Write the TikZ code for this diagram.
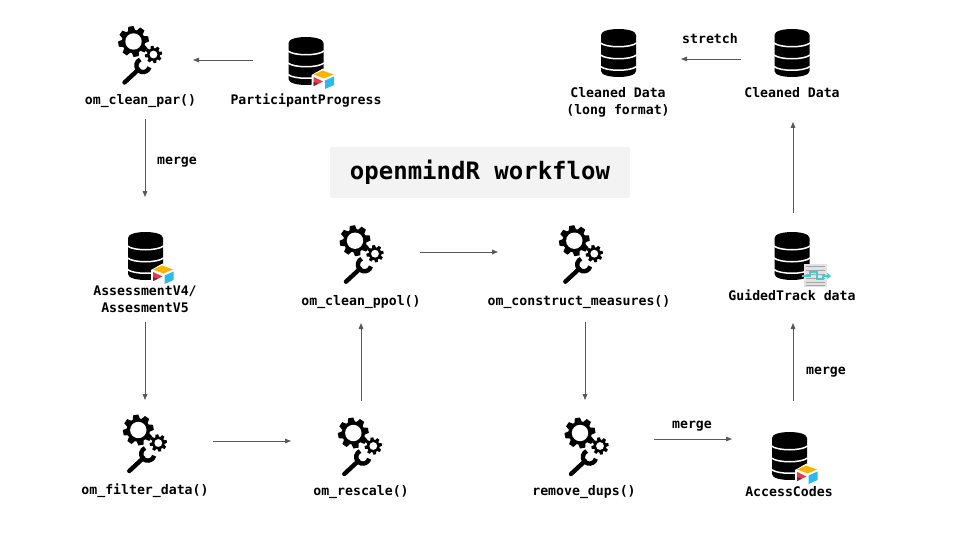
\documentclass[tikz,border=0pt]{standalone}
\usepackage{fontspec}
\setmonofont{DejaVu Sans Mono}[BoldFont={DejaVu Sans Mono Bold}]
\usetikzlibrary{arrows.meta}
\definecolor{arrowgray}{HTML}{595959}
\definecolor{titlebg}{HTML}{F3F3F3}
\definecolor{atyellow}{HTML}{FCB400}
\definecolor{atred}{HTML}{E8384F}
\definecolor{atblue}{HTML}{2DB9F0}
\definecolor{atdark}{HTML}{8A1F3A}
\definecolor{gtteal}{HTML}{3CCFCF}
\definecolor{gtmaze}{HTML}{CFCFCF}
\tikzset{
  x=1pt,y=-1pt,
  slot/.style 2 args={minimum width=#1pt,minimum height=#2pt,inner sep=0pt,outer sep=0pt},
  caption/.style={font=\ttfamily\bfseries\fontsize{13.2}{17}\selectfont,text=black,inner sep=0pt,align=center,text depth=0pt},
  titlebox/.style={fill=titlebg,minimum width=300pt,minimum height=51pt,inner sep=0pt,font=\ttfamily\bfseries\fontsize{24}{28}\selectfont,text=black},
  arr/.style={draw=arrowgray,line width=0.8pt,-{Triangle[length=6pt,width=4.6pt,fill=arrowgray]}},
  database/.pic={
    \fill[black] (-17.5,-18) .. controls (-17.5,-26) and (17.5,-26) .. (17.5,-18)
      -- (17.5,18) .. controls (17.5,26) and (-17.5,26) .. (-17.5,18) -- cycle;
    \foreach \sy in {-10,2,13.5}{
      \draw[white,line width=1.5pt] (-18,\sy) .. controls (-12,\sy+5) and (12,\sy+5) .. (18,\sy);
    }
  },
  airtable/.pic={
    \fill[white] (5.5,14) -- (17,7.5) -- (29.5,13) -- (29.5,25) -- (18,30) -- (5.5,26) -- cycle;
    \fill[atyellow] (7.5,13.5) -- (16.5,9.5) -- (27.5,13.5) -- (18,17.5) -- cycle;
    \fill[atred] (7.5,16) -- (17,20.5) -- (7.5,25) -- cycle;
    \fill[atdark] (7.5,21) -- (12.5,22.8) -- (7.5,25) -- cycle;
    \fill[atblue] (19,19.5) -- (28,15.5) -- (28,24) -- (19,28) -- cycle;
  },
  guided/.pic={
    \fill[gtmaze!60] (12,8) rectangle (35,31);
    \foreach \my in {10.5,14,18,22,26,29}{
      \draw[gtmaze!80!black,line width=0.8pt] (14,\my) -- (33,\my);
    }
    \draw[gtteal,line width=1.2pt,-{Straight Barb[length=3pt,width=5pt]}]
      (10,20) -- (18,20) -- (18,16) -- (25,16) -- (25,23) -- (31,23) -- (31,20) -- (39,20);
  },
  tools/.pic={
    % wrench
    \draw[black,line width=4.4pt,line cap=round] (-9,41) -- (5,28);
    \draw[black,line width=4.4pt] ([shift={(15:6.6)}]9.5,24) arc (15:245:6.6);
    % large gear
    \foreach \ga in {0,45,...,315}{
      \fill[black,rotate=\ga+10] (-3.8,-10) -- (-2.6,-15.3) -- (2.6,-15.3) -- (3.8,-10) -- cycle;
    }
    \fill[black] (0,0) circle (11.8);
    \fill[white] (0,0) circle (8.2);
    % small gear
    \begin{scope}[shift={(20,13)}]
      \foreach \ga in {0,45,...,315}{
        \fill[black,rotate=\ga+10] (-2,-5) -- (-1.4,-8.6) -- (1.4,-8.6) -- (2,-5) -- cycle;
      }
      \fill[black] (0,0) circle (6.4);
      \fill[white] (0,0) circle (3.9);
    \end{scope}
  }
}
\begin{document}
\begin{tikzpicture}
\useasboundingbox (0,0) rectangle (960,540);
\fill[white] (0,0) rectangle (960,540);

% icon slots: invisible boxes round each icon; connectors run between their anchors
\node[slot={96}{118}] (par) at (145,60) {};
\node[slot={106}{50}] (pp) at (306,60) {};
\node[slot={126}{60}] (long) at (618,59) {};
\node[slot={104}{126}] (cleaned) at (793,59) {};
\node[slot={70}{125}] (assess) at (145,259.5) {};
\node[slot={118}{142}] (ppol) at (361,252) {};
\node[slot={174}{140}] (construct) at (585,252) {};
\node[slot={70}{110}] (gt) at (793,268) {};
\node[slot={136}{82}] (filter) at (145,441) {};
\node[slot={140}{80}] (rescale) at (361,441) {};
\node[slot={138}{78}] (dups) at (585,439) {};
\node[slot={122}{76}] (access) at (793,439) {};

% icons
\pic at (133.5,41.5) {tools};
\pic at (355,240.7) {tools};
\pic at (574.3,240.7) {tools};
\pic at (138.3,430) {tools};
\pic at (353.3,433) {tools};
\pic at (580,433) {tools};

\pic at (306,61) {database};
\pic at (306,61) {airtable};
\pic at (618.5,53) {database};
\pic at (792,53) {database};
\pic at (145.5,256) {database};
\pic at (145.5,256) {airtable};
\pic at (792,256) {database};
\pic at (792,256) {guided};
\pic at (789.5,456) {database};
\pic at (789.5,456) {airtable};

% title
\node[titlebox] (title) at (480,172.5) {openmindR workflow};

% captions
\node[caption] (tpar) at (140.5,99) {om\_clean\_par()};
\node[caption] (tpp) at (306,99) {ParticipantProgress};
\node[caption] (tlong) at (618,100.5) {Cleaned Data\\(long format)};
\node[caption] (tcleaned) at (792,92.5) {Cleaned Data};
\node[caption] (tassess) at (145,299.5) {AssessmentV4/\\AssesmentV5};
\node[caption] (tppol) at (361,300) {om\_clean\_ppol()};
\node[caption] (tconstruct) at (579,300) {om\_construct\_measures()};
\node[caption] (tgt) at (792,295) {GuidedTrack data};
\node[caption] (tfilter) at (145,489) {om\_filter\_data()};
\node[caption] (trescale) at (361,490) {om\_rescale()};
\node[caption] (tdups) at (584,490) {remove\_dups()};
\node[caption] (taccess) at (789,491) {AccessCodes};
\node[caption] (lm1) at (177,160.5) {merge};
\node[caption] (lm2) at (692,424.5) {merge};
\node[caption] (lm3) at (826,370.5) {merge};
\node[caption] (lst) at (710,38) {stretch};

% connectors
\draw[arr] (pp.west) -- (par.east);
\draw[arr] (par.south) -- (assess.north);
\draw[arr] (assess.south) -- (filter.north);
\draw[arr] (filter.east) -- (rescale.west);
\draw[arr] (rescale.north) -- (ppol.south);
\draw[arr] (ppol.east) -- (construct.west);
\draw[arr] (construct.south) -- (dups.north);
\draw[arr] (dups.east) -- (access.west);
\draw[arr] (access.north) -- (gt.south);
\draw[arr] (gt.north) -- (cleaned.south);
\draw[arr] (cleaned.west) -- (long.east);
\end{tikzpicture}
\end{document}
